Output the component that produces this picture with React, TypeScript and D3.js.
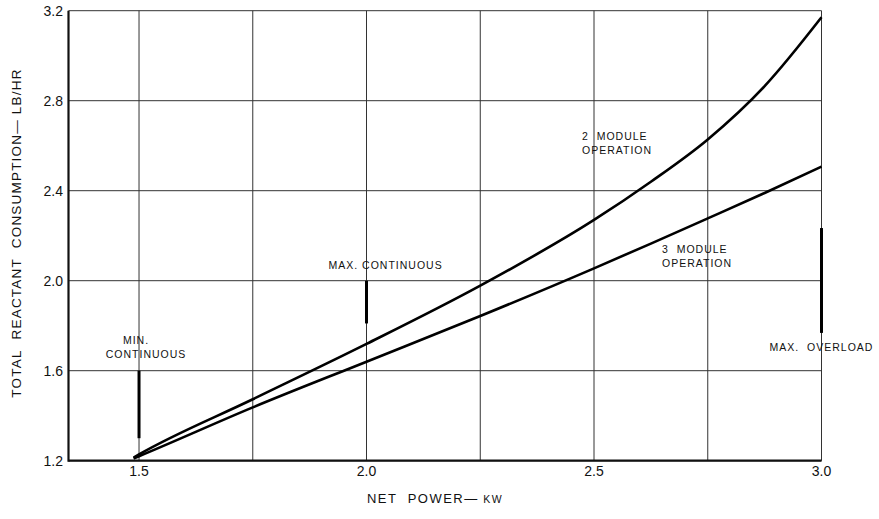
import React from 'react';
import * as d3 from 'd3';

// net power (kW) at which the curves were read
const powerKw = [1.488, 1.5, 1.75, 2.0, 2.25, 2.5, 2.625, 2.75, 2.875, 3.0];
// total reactant consumption (lb/hr)
const twoModule = [1.214, 1.228, 1.473, 1.719, 1.978, 2.27, 2.44, 2.628, 2.865, 3.171];
const threeModule = [1.21, 1.22, 1.437, 1.64, 1.843, 2.055, 2.165, 2.277, 2.39, 2.507];

const xGrid = [1.5, 1.75, 2.0, 2.25, 2.5, 2.75, 3.0];
const xTickLabels = ['1.5', '2.0', '2.5', '3.0'];
const yGrid = [1.2, 1.6, 2.0, 2.4, 2.8, 3.2];
const yTickLabels = ['1.2', '1.6', '2.0', '2.4', '2.8', '3.2'];

// operating limit markers: power, top and bottom of the heavy bar
const limitPower = [1.5, 2.0, 3.0];
const limitTop = [1.6, 2.0, 2.234];
const limitBottom = [1.3, 1.81, 1.768];

const W = 879;
const H = 519;
const font = '"Liberation Sans", Arial, sans-serif';
const sp = '\u00a0';

export default function App() {
  const x = d3.scaleLinear().domain([1.345, 3.0]).range([68.5, 821.5]);
  const y = d3.scaleLinear().domain([1.2, 3.2]).range([460.7, 10.7]);

  const line = d3
    .line<number>()
    .x((_, i) => x(powerKw[i]))
    .y((d) => y(d))
    .curve(d3.curveMonotoneX);

  const [x0, x1] = x.range();
  const [yb, yt] = y.range();

  return (
    <svg
      width={W}
      height={H}
      style={{ position: 'absolute', left: 0, top: 0, background: '#fff' }}
      fontFamily={font}
    >
      {/* grid */}
      {xGrid.map((v) => (
        <line key={'gx' + v} x1={x(v)} x2={x(v)} y1={yt} y2={yb} stroke="#333" strokeWidth={1} />
      ))}
      {yGrid.map((v) => (
        <line key={'gy' + v} x1={x0} x2={x1} y1={y(v)} y2={y(v)} stroke="#333" strokeWidth={1} />
      ))}

      {/* heavy axes */}
      <line x1={x0} x2={x0} y1={yt} y2={yb + 1} stroke="#111" strokeWidth={2.2} />
      <line x1={x0} x2={x1} y1={yb} y2={yb} stroke="#111" strokeWidth={2.2} />

      {/* tick labels */}
      {xTickLabels.map((t) => (
        <text key={'tx' + t} x={x(+t)} y={476} textAnchor="middle" fontSize={14} fill="#111">
          {t}
        </text>
      ))}
      {yTickLabels.map((t) => (
        <text key={'ty' + t} x={63} y={y(+t) + 5} textAnchor="end" fontSize={14} fill="#111">
          {t}
        </text>
      ))}

      {/* curves */}
      <path d={line(twoModule) || ''} fill="none" stroke="#000" strokeWidth={2.6} />
      <path d={line(threeModule) || ''} fill="none" stroke="#000" strokeWidth={2.6} />

      {/* limit markers */}
      {limitPower.map((p, i) => (
        <line
          key={'lim' + p}
          x1={x(p)}
          x2={x(p)}
          y1={y(limitTop[i])}
          y2={y(limitBottom[i])}
          stroke="#000"
          strokeWidth={3}
        />
      ))}

      {/* annotations */}
      <g fontSize={10.5} fill="#111" letterSpacing={1}>
        <text x={x(1.5) - 3} y={y(1.6) - 27} textAnchor="middle">MIN.</text>
        <text x={x(1.5) + 7} y={y(1.6) - 13} textAnchor="middle">CONTINUOUS</text>
        <text x={x(2.0) - 38} y={y(2.0) - 12}>{`MAX.${sp}CONTINUOUS`}</text>
        <text x={x(3.0)} y={351} textAnchor="middle">{`MAX.${sp}${sp}OVERLOAD`}</text>
        <text x={582} y={140}>{`2${sp}${sp}MODULE`}</text>
        <text x={582} y={154}>OPERATION</text>
        <text x={662} y={253}>{`3${sp}${sp}MODULE`}</text>
        <text x={662} y={267}>OPERATION</text>
      </g>

      {/* axis titles */}
      <text
        transform={`translate(21,233) rotate(-90)`}
        textAnchor="middle"
        fontSize={13.5}
        letterSpacing={1.2}
        fill="#111"
      >
        {`TOTAL${sp}${sp}REACTANT${sp}${sp}CONSUMPTION—${sp}LB/HR`}
      </text>
      <text x={435} y={503} textAnchor="middle" fontSize={13} letterSpacing={1.5} fill="#111">
        {`NET${sp}${sp}POWER—`}
        <tspan fontSize={10.5}>{`${sp}KW`}</tspan>
      </text>
    </svg>
  );
}
